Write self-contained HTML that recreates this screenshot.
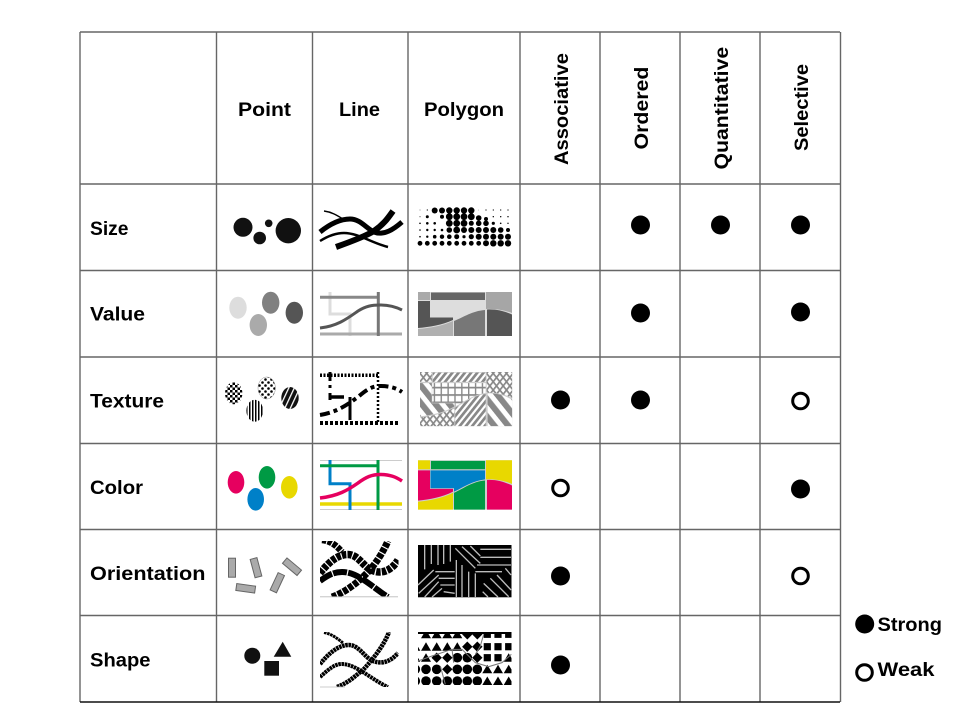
<!DOCTYPE html>
<html><head><meta charset="utf-8"><style>
html,body{margin:0;padding:0;background:#fff}
svg{display:block}
text{font-family:"Liberation Sans",sans-serif;font-weight:bold;font-size:19.500px;fill:#000}
.g{stroke:#666;stroke-width:1.400;fill:none}
</style></head><body>
<svg width="960" height="720" viewBox="0 0 960 720" xmlns="http://www.w3.org/2000/svg">
<defs>
<path id="r1" d="M0,0H12V8H0Z"/>
<path id="r2" d="M13,0.500H67V8H13Z"/>
<path id="r3" d="M12.500,9H67V17C52,19 44,25 36,28V25H12.500Z"/>
<path id="r4" d="M0,9H12V25.500H35V28C24,33 12,35 0,36Z"/>
<path id="r5" d="M68,0H94V21C86,18 76,16.500 68,17Z"/>
<path id="r6" d="M0,37C12,36 24,34 35,29V44H0Z"/>
<path id="r7" d="M36,29C46,25 54,19 67,18V44H36Z"/>
<path id="r8" d="M69,17.500C78,17 86,19 94,22.500V44H69Z"/>

<path id="t" d="M0,-4.500L5,4H-5Z"/>
<path id="i" d="M0,-5.200L5.200,0L0,5.200L-5.200,0Z"/>
<path id="q" d="M-3.600,-3.600H3.600V3.600H-3.600Z"/>
<circle id="c" r="4.800"/>

<clipPath id="cpO"><rect x="320" y="541" width="78.500" height="56"/></clipPath>
<clipPath id="cpS"><rect x="320" y="632" width="78.500" height="55"/></clipPath>
<clipPath id="cpP"><rect x="418" y="632" width="93.500" height="53"/></clipPath>

<pattern id="chk" patternUnits="userSpaceOnUse" width="5" height="5"><rect width="5" height="5" fill="#fff"/><rect width="2.500" height="2.500" fill="#000"/><rect x="2.500" y="2.500" width="2.500" height="2.500" fill="#000"/></pattern>
<pattern id="spot" patternUnits="userSpaceOnUse" width="6" height="6"><rect width="6" height="6" fill="#fff"/><circle cx="1.500" cy="1.500" r="1.300" fill="#000"/><circle cx="4.500" cy="4.500" r="1.300" fill="#000"/></pattern>
<pattern id="vs" patternUnits="userSpaceOnUse" width="3" height="3"><rect width="3" height="3" fill="#fff"/><rect width="1.500" height="3" fill="#000"/></pattern>
<pattern id="ds" patternUnits="userSpaceOnUse" width="5" height="5" patternTransform="rotate(25)"><rect width="5" height="5" fill="#111"/><rect width="1.300" height="5" fill="#fff"/></pattern>

<pattern id="tx" patternUnits="userSpaceOnUse" width="4" height="4" patternTransform="rotate(45) scale(1.200)"><rect width="4" height="4" fill="#fff"/><rect width="4" height="1.300" fill="#888"/><rect width="1.300" height="4" fill="#888"/></pattern>
<pattern id="tg" patternUnits="userSpaceOnUse" width="7" height="6"><rect width="7" height="6" fill="#fff"/><rect width="7" height="1.400" fill="#888"/><rect width="1.400" height="6" fill="#888"/></pattern>
<pattern id="tw" patternUnits="userSpaceOnUse" width="10" height="10" patternTransform="rotate(-45)"><rect width="10" height="10" fill="#fff"/><rect width="5.500" height="10" fill="#888"/></pattern>
<pattern id="tf" patternUnits="userSpaceOnUse" width="4.500" height="4.500" patternTransform="rotate(45)"><rect width="4.500" height="4.500" fill="#fff"/><rect width="2.500" height="4.500" fill="#888"/></pattern>
</defs>

<rect width="960" height="720" fill="#fff"/>

<!-- grid -->
<g class="g">
<path d="M80,32V702M216.500,32V702M312.500,32V702M408,32V702M520,32V702M600,32V702M680,32V702M760,32V702M840.500,32V702"/>
<path d="M80,32H840M80,184H840M80,270.500H840M80,357H840M80,443.500H840M80,529.500H840M80,615.500H840"/>
<path d="M80,702H840" stroke="#111"/>
</g>

<!-- headers -->
<text x="238" y="116" textLength="53" lengthAdjust="spacingAndGlyphs">Point</text>
<text x="339" y="116" textLength="41" lengthAdjust="spacingAndGlyphs">Line</text>
<text x="424" y="116" textLength="80" lengthAdjust="spacingAndGlyphs">Polygon</text>
<text transform="translate(568,165) rotate(-90) scale(1.033,1)">Associative</text>
<text transform="translate(648,149.500) rotate(-90) scale(1.094,1)">Ordered</text>
<text transform="translate(728,169.500) rotate(-90) scale(1.090,1)">Quantitative</text>
<text transform="translate(808,151) rotate(-90) scale(1.030,1)">Selective</text>

<!-- row labels -->
<text x="90" y="235" textLength="38.500" lengthAdjust="spacingAndGlyphs">Size</text>
<text x="90" y="320.700" textLength="55" lengthAdjust="spacingAndGlyphs">Value</text>
<text x="90" y="407.700" textLength="74" lengthAdjust="spacingAndGlyphs">Texture</text>
<text x="90" y="494" textLength="53" lengthAdjust="spacingAndGlyphs">Color</text>
<text x="90" y="580" textLength="115.500" lengthAdjust="spacingAndGlyphs">Orientation</text>
<text x="90" y="666.700" textLength="60.500" lengthAdjust="spacingAndGlyphs">Shape</text>

<!-- marks -->
<g fill="#000">
<circle cx="640.500" cy="225" r="9.500"/><circle cx="720.500" cy="225" r="9.500"/><circle cx="800.500" cy="225" r="9.500"/>
<circle cx="640.500" cy="313" r="9.500"/><circle cx="800.500" cy="312" r="9.500"/>
<circle cx="560.500" cy="400" r="9.500"/><circle cx="640.500" cy="400" r="9.500"/>
<circle cx="800.500" cy="489" r="9.500"/>
<circle cx="560.500" cy="576" r="9.500"/>
<circle cx="560.500" cy="665" r="9.500"/>
<circle cx="864.700" cy="624" r="9.500"/>
</g>
<g fill="none" stroke="#000" stroke-width="3">
<circle cx="800.500" cy="401" r="7.800"/>
<circle cx="560.500" cy="488" r="7.800"/>
<circle cx="800.500" cy="576" r="7.800"/>
<circle cx="864.500" cy="672.500" r="7.800"/>
</g>
<text x="877.500" y="631" textLength="64.500" lengthAdjust="spacingAndGlyphs">Strong</text>
<text x="877.500" y="676" textLength="57" lengthAdjust="spacingAndGlyphs">Weak</text>

<!-- SIZE -->
<g fill="#111">
<circle cx="243" cy="227.300" r="9.500"/><circle cx="259.700" cy="238" r="6.300"/><circle cx="268.700" cy="223.300" r="3.800"/><circle cx="288.300" cy="230.700" r="12.700"/>
</g>
<g fill="none" stroke="#000">
<path stroke-width="5" d="M320,232C330,224 340,219 350,219C360,219 366,228 374,232C384,236 394,229 402,222"/>
<path stroke-width="6" d="M336,247C350,242 366,236 374,231C384,224 388,218 393,211"/>
<path stroke-width="2.500" d="M320,241C328,236 336,233 344,233C358,233 372,243 388,247"/>
<path stroke-width="1.500" d="M324,211C332,212 338,216 343,219"/>
</g>
<g fill="#000">
<!-- row 0 -->
<circle cx="420" cy="210" r=".4"/><circle cx="427.300" cy="210" r=".6"/><circle cx="434.700" cy="210.500" r="3"/><circle cx="442" cy="210.500" r="3"/><circle cx="449.300" cy="210.500" r="3.200"/><circle cx="456.700" cy="210.500" r="3.200"/><circle cx="464" cy="210.500" r="3.200"/><circle cx="471.300" cy="210.500" r="3.200"/><circle cx="478.700" cy="210" r=".3"/><circle cx="486" cy="210" r=".6"/><circle cx="493.300" cy="210" r=".6"/><circle cx="500.700" cy="210" r=".6"/><circle cx="508" cy="210" r=".6"/>
<!-- row 1 -->
<circle cx="420" cy="216.700" r=".5"/><circle cx="427.300" cy="216.700" r="1.500"/><circle cx="442" cy="216.700" r="2"/><circle cx="449.300" cy="216.700" r="3.400"/><circle cx="456.700" cy="216.700" r="3.400"/><circle cx="464" cy="216.700" r="3.400"/><circle cx="471.300" cy="216.700" r="3.400"/><circle cx="478.700" cy="218" r="2.800"/><circle cx="486" cy="219" r="2"/><circle cx="493.300" cy="216.700" r=".7"/><circle cx="500.700" cy="216.700" r=".7"/><circle cx="508" cy="216.700" r=".7"/>
<!-- row 2 -->
<circle cx="420" cy="223.300" r=".8"/><circle cx="427.300" cy="223.300" r="1.300"/><circle cx="434.700" cy="223.300" r="1.300"/><circle cx="449.300" cy="223.300" r="3.400"/><circle cx="456.700" cy="223.300" r="3.400"/><circle cx="464" cy="223.300" r="3.400"/><circle cx="471.300" cy="223.300" r="2.500"/><circle cx="478.700" cy="223.300" r="2.800"/><circle cx="486" cy="223.300" r="2.800"/><circle cx="493.300" cy="223.300" r="1.600"/><circle cx="500.700" cy="223.300" r=".8"/><circle cx="508" cy="223.300" r=".7"/>
<!-- row 3 -->
<circle cx="420" cy="230" r=".8"/><circle cx="427.300" cy="230" r="1.200"/><circle cx="434.700" cy="230" r="1.200"/><circle cx="442" cy="230" r="1.300"/><circle cx="449.300" cy="230" r="2.800"/><circle cx="456.700" cy="230" r="3.400"/><circle cx="464" cy="230" r="3"/><circle cx="471.300" cy="230" r="3"/><circle cx="478.700" cy="230" r="3"/><circle cx="486" cy="230" r="3"/><circle cx="493.300" cy="230" r="3"/><circle cx="500.700" cy="230" r="2.800"/><circle cx="508" cy="230" r="2"/>
<!-- row 4 -->
<circle cx="420" cy="236.700" r=".8"/><circle cx="427.300" cy="236.700" r="1.200"/><circle cx="434.700" cy="236.700" r="1.800"/><circle cx="442" cy="236.700" r="2.200"/><circle cx="449.300" cy="236.700" r="2.300"/><circle cx="456.700" cy="236.700" r="2.500"/><circle cx="464" cy="236.700" r="1.600"/><circle cx="471.300" cy="236.700" r="2.600"/><circle cx="478.700" cy="236.700" r="3"/><circle cx="486" cy="236.700" r="3"/><circle cx="493.300" cy="236.700" r="3"/><circle cx="500.700" cy="236.700" r="3"/><circle cx="508" cy="236.700" r="3"/>
<!-- row 5 -->
<circle cx="420" cy="243.300" r="2.400"/><circle cx="427.300" cy="243.300" r="2.400"/><circle cx="434.700" cy="243.300" r="2.400"/><circle cx="442" cy="243.300" r="2.400"/><circle cx="449.300" cy="243.300" r="2.400"/><circle cx="456.700" cy="243.300" r="2.400"/><circle cx="464" cy="243.300" r="2.400"/><circle cx="471.300" cy="243.300" r="2.400"/><circle cx="478.700" cy="243.300" r="2.400"/><circle cx="486" cy="243.300" r="3"/><circle cx="493.300" cy="243.300" r="3.200"/><circle cx="500.700" cy="243.300" r="3.200"/><circle cx="508" cy="243.300" r="3.200"/>
</g>

<!-- VALUE -->
<ellipse cx="238" cy="307.700" rx="8.700" ry="11" fill="#ddd"/>
<ellipse cx="270.700" cy="302.700" rx="8.700" ry="11" fill="#808080"/>
<ellipse cx="258.300" cy="325" rx="8.700" ry="11" fill="#aaa"/>
<ellipse cx="294.300" cy="312.700" rx="8.700" ry="11" fill="#555"/>
<g fill="none" stroke-width="3">
<path stroke="#ddd" d="M330,292V314H350V336"/>
<path stroke="#aaa" d="M320,334H402"/>
<path stroke="#888" d="M320,297.300H378"/>
<path stroke="#777" d="M378.300,292V336"/>
<path stroke="#555" d="M320,328C338,326 348,318 358,311C366,306 372,305 380,305C390,305 396,307 402,310"/>
</g>
<g transform="translate(418,292)">
<rect width="94" height="44" fill="#ddd"/>
<use href="#r1" fill="#aaa"/><use href="#r2" fill="#666"/><use href="#r3" fill="#ddd"/><use href="#r4" fill="#555"/><use href="#r5" fill="#a6a6a6"/><use href="#r6" fill="#b0b0b0"/><use href="#r7" fill="#777"/><use href="#r8" fill="#555"/>
</g>

<!-- TEXTURE -->
<ellipse cx="233.700" cy="393.300" rx="8.700" ry="11" fill="url(#chk)"/>
<ellipse cx="266.700" cy="388" rx="8.700" ry="11" fill="url(#spot)" stroke="#777" stroke-width=".4"/>
<ellipse cx="254.700" cy="410.700" rx="8.300" ry="11" fill="url(#vs)"/>
<ellipse cx="290" cy="398" rx="8.700" ry="11" fill="url(#ds)"/>
<g fill="none" stroke="#000" stroke-width="3">
<path stroke-width="3.500" stroke-dasharray="2 1.500" d="M320,375.300H378"/>
<path stroke-dasharray="9 4 3 5 8 4" d="M330,372V400"/>
<path stroke-width="3.500" d="M329,397H344"/>
<path d="M350,397V420"/>
<path stroke-dasharray="2 2" stroke-width="2.500" d="M378,372V424"/>
<path stroke-width="4" stroke-dasharray="3 2" d="M320,423H400"/>
<path stroke-width="4" stroke-dasharray="10 4 4 4" d="M320,415C338,412 348,404 358,397C366,390 372,386 380,386C390,386 396,388 402,392"/>
</g>
<g transform="translate(420,372) scale(.98,1.230)">
<rect width="94" height="44" fill="#ccc"/>
<use href="#r1" fill="url(#tx)"/><use href="#r2" fill="url(#tf)"/><use href="#r3" fill="url(#tg)"/><use href="#r4" fill="url(#tw)"/><use href="#r5" fill="url(#tx)"/><use href="#r6" fill="url(#tx)"/><use href="#r7" fill="url(#tf)"/><use href="#r8" fill="url(#tw)"/>
</g>

<!-- COLOR -->
<ellipse cx="236" cy="482.300" rx="8.300" ry="11.300" fill="#e6005f"/>
<ellipse cx="267" cy="477.300" rx="8.300" ry="11.300" fill="#009a44"/>
<ellipse cx="255.700" cy="499.300" rx="8.300" ry="11.300" fill="#0080c8"/>
<ellipse cx="289.300" cy="487.300" rx="8.300" ry="11.300" fill="#e8d800"/>
<g fill="none">
<path stroke="#ccc" stroke-width="1" d="M320,460.500H402M320,509.500H402"/>
<path stroke="#e8d800" stroke-width="3.500" d="M320,504H402"/>
<path stroke="#0080c8" stroke-width="3" d="M330,460V483.700H350V510"/>
<path stroke="#009a44" stroke-width="3" d="M320,465.700H378M378,460V510"/>
<path stroke="#e6005f" stroke-width="3.500" d="M320,498C338,496 348,490 358,483C366,477 372,474.500 380,474.500C390,474.500 396,477 402,481"/>
</g>
<g transform="translate(418,460.300) scale(1,1.120)">
<rect width="94" height="44" fill="#ccc"/>
<use href="#r1" fill="#e8d800"/><use href="#r2" fill="#009a44"/><use href="#r3" fill="#0080c8"/><use href="#r4" fill="#e6005f"/><use href="#r5" fill="#e8d800"/><use href="#r6" fill="#e8d800"/><use href="#r7" fill="#009a44"/><use href="#r8" fill="#e6005f"/>
</g>

<!-- ORIENTATION -->
<g fill="#aaa" stroke="#666" stroke-width="1">
<rect x="-3.500" y="-9.500" width="7" height="19" transform="translate(232,567.700)"/>
<rect x="-3.500" y="-9.500" width="7" height="19" transform="translate(256,567.700) rotate(-15)"/>
<rect x="-3.500" y="-9.500" width="7" height="19" transform="translate(292,566.700) rotate(-50)"/>
<rect x="-3.500" y="-9.500" width="7" height="19" transform="translate(277.300,582.700) rotate(25)"/>
<rect x="-3.500" y="-9.500" width="7" height="19" transform="translate(245.700,588.300) rotate(-82)"/>
</g>
<g clip-path="url(#cpO)" fill="none" stroke="#000">
<path stroke-width="7.500" stroke-dasharray="4.500 1.200" d="M320,573C330,561 338,554.500 348,554.500C358,554.500 363,566 371,570C382,575 392,570 398,560"/>
<path stroke-width="7" stroke-dasharray="5 1.200" d="M332,597C346,592 358,582 366,574C376,564 383,552 388,541"/>
<path stroke-width="6" stroke-dasharray="14 1.200" d="M320,581C328,575 334,572 342,572C358,572 372,587 388,597"/>
<path stroke-width="6.500" stroke-dasharray="4.500 1.200" d="M322,540C331,541 337,546 342,552"/>
</g>
<path stroke="#bbb" stroke-width=".8" d="M320,596.800H398" fill="none"/>
<rect x="418" y="545" width="93.500" height="52.300" fill="#000"/>
<g transform="translate(412,540) scale(.33333)" fill="none" stroke="#bbb" stroke-width="4">
<path d="M38,15V88M58,15V72M78,15V75M95,15V72M115,15V65"/>
<path d="M18,135L65,90M20,160L80,105M38,171L80,125M60,171L90,145"/>
<path d="M70,95H128M80,115H128M85,135H128M95,155L128,160"/>
<path d="M130,25L190,85M150,20L205,70M175,18L205,48"/>
<path d="M133,60V171M150,75V171M170,95V171M190,100V171"/>
<path d="M205,28H297M205,52H297M195,75H297M190,95H270"/>
<path d="M280,85L297,105M255,105L297,150M235,115L290,170M215,130L258,171M212,155L228,171"/>
</g>

<!-- SHAPE -->
<circle cx="252.300" cy="655.700" r="8" fill="#111"/>
<path d="M282.700,641.700L291.300,656.700H273.700Z" fill="#111"/>
<rect x="264.300" y="661" width="14.700" height="14.700" fill="#111"/>
<g clip-path="url(#cpS)" fill="none" stroke="#000" stroke-dasharray="2.600 .6">
<path stroke-width="4.500" d="M320,664C330,652 339,645 349,645C359,645 365,658 373,661C384,665 392,660 398,653"/>
<path stroke-width="4.500" d="M337,687C350,682 356,675 363,670C374,658 384,645 389,632"/>
<path stroke-width="4" d="M320,677C328,670 334,664 342,664C356,664 372,680 388,687"/>
<path stroke-width="3" d="M324,632.500C332,634 338,639 343,643"/>
</g>
<path stroke="#bbb" stroke-width=".8" d="M320,687H345" fill="none"/>
<rect x="418" y="632" width="93.500" height="53" fill="#fff"/>
<g clip-path="url(#cpP)" fill="#000">
<rect x="418" y="632" width="93.500" height="2"/>
<!-- r0 y634.300 -->
<use href="#t" x="426" y="634.300"/><use href="#t" x="436.700" y="634.300"/><use href="#t" x="447.300" y="634.300"/><use href="#t" x="457.300" y="634.300"/><use href="#i" x="467.300" y="634.300"/><use href="#i" x="477.300" y="634.300"/><use href="#q" x="487.300" y="634.300"/><use href="#q" x="498" y="634.300"/><use href="#q" x="508.700" y="634.300"/>
<!-- r1 y646.700 -->
<use href="#t" x="415.300" y="646.700"/><use href="#t" x="426" y="646.700"/><use href="#t" x="436.700" y="646.700"/><use href="#t" x="447.300" y="646.700"/><use href="#t" x="457.300" y="646.700"/><use href="#i" x="467.300" y="646.700"/><use href="#i" x="477.300" y="646.700"/><use href="#q" x="487.300" y="646.700"/><use href="#q" x="498" y="646.700"/><use href="#q" x="508.700" y="646.700"/>
<!-- r2 y657.700 -->
<use href="#t" x="415.300" y="657.700"/><use href="#t" x="426" y="657.700"/><use href="#i" x="436.700" y="657.700"/><use href="#i" x="447.300" y="657.700"/><use href="#c" x="457.300" y="657.700"/><use href="#c" x="467.300" y="657.700"/><use href="#i" x="477.300" y="657.700"/><use href="#q" x="487.300" y="657.700"/><use href="#q" x="498" y="657.700"/><use href="#t" x="508.700" y="657.700"/>
<!-- r3 y669.300 -->
<use href="#c" x="415.300" y="669.300"/><use href="#c" x="426" y="669.300"/><use href="#c" x="436.700" y="669.300"/><use href="#i" x="447.300" y="669.300"/><use href="#c" x="457.300" y="669.300"/><use href="#c" x="467.300" y="669.300"/><use href="#c" x="477.300" y="669.300"/><use href="#t" x="487.300" y="669.300"/><use href="#t" x="498" y="669.300"/><use href="#t" x="508.700" y="669.300"/>
<!-- r4 y681 -->
<use href="#c" x="415.300" y="681"/><use href="#c" x="426" y="681"/><use href="#c" x="436.700" y="681"/><use href="#c" x="447.300" y="681"/><use href="#c" x="457.300" y="681"/><use href="#c" x="467.300" y="681"/><use href="#c" x="477.300" y="681"/><use href="#t" x="487.300" y="681"/><use href="#t" x="498" y="681"/><use href="#t" x="508.700" y="681"/>
</g>
<g transform="translate(412,626) scale(.33333)" fill="none" stroke="#777" stroke-width="3">
<path d="M18,105L60,90L120,70H150L190,110L230,122L270,110L298,85"/>
<path d="M215,25L205,60L190,85M85,120L100,175M120,70L125,110"/>
</g>
</svg>
</body></html>
